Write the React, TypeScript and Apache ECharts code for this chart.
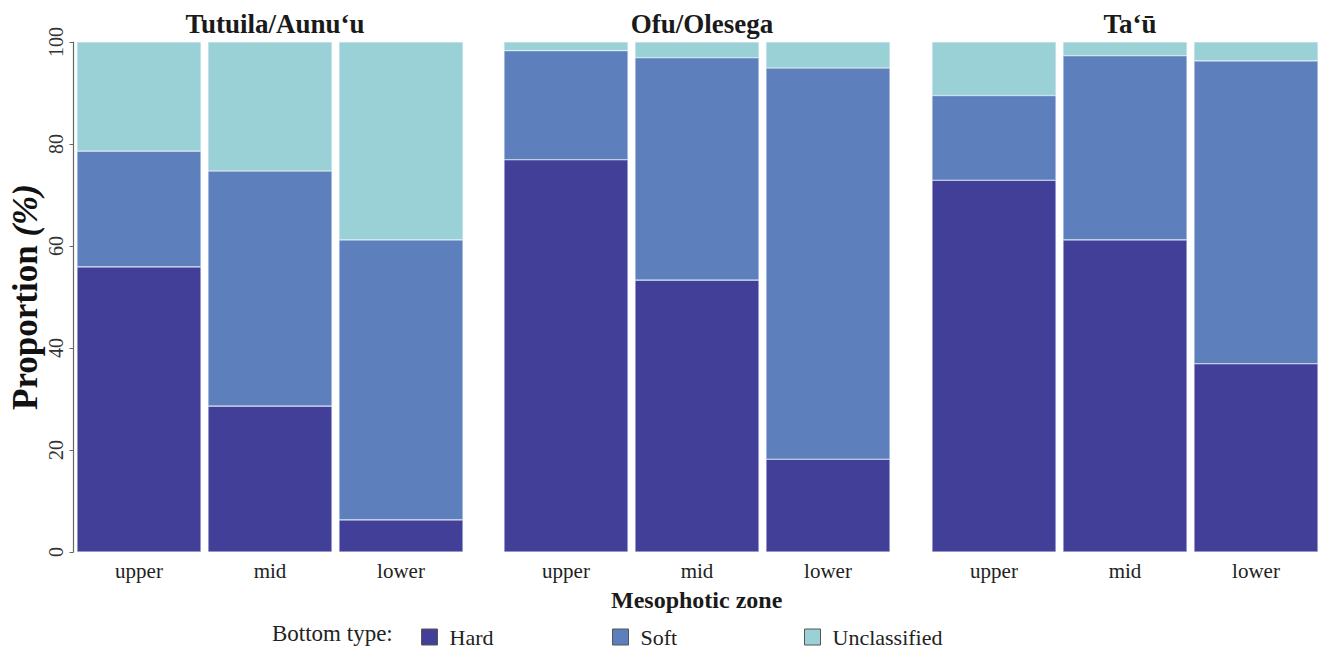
import React, { useEffect, useRef } from "react";
import * as echarts from "echarts";

const panels = ["Tutuila/Aunu‘u", "Ofu/Olesega", "Ta‘ū"];
const zones = ["upper", "mid", "lower"];
// cumulative tops (%)
const hard = [
  [55.9, 28.6, 6.3],
  [76.9, 53.3, 18.2],
  [72.9, 61.2, 36.9],
];
const hardPlusSoft = [
  [78.6, 74.7, 61.2],
  [98.3, 96.9, 94.9],
  [89.5, 97.3, 96.3],
];
const yTicks = [0, 20, 40, 60, 80, 100];
const seriesNames = ["Hard", "Soft", "Unclassified"];
const colors = ["#413f98", "#5d80bd", "#99d1d6"];

const FONT = "'Liberation Serif', 'Times New Roman', serif";

export default function App() {
  const ref = useRef<HTMLDivElement>(null);
  useEffect(() => {
    if (!ref.current) return;
    const chart = echarts.init(ref.current, undefined, { renderer: "svg" });
    const lefts = [73.5, 500.5, 928.5];
    const width = 393;
    const grids = lefts.map((l) => ({ left: l, width, top: 42, bottom: 96 }));
    const xAxes = lefts.map((_, i) => ({
      type: "category",
      gridIndex: i,
      data: zones,
      axisLine: { show: false },
      axisTick: { show: false },
      axisLabel: { fontFamily: FONT, fontSize: 21, color: "#222", margin: 8 },
    }));
    const yAxes = lefts.map((_, i) => ({
      type: "value",
      gridIndex: i,
      min: yTicks[0],
      max: yTicks[yTicks.length - 1],
      interval: 20,
      splitLine: { show: false },
      axisLine: { show: i === 0, lineStyle: { color: "#666", width: 1.2 } },
      axisTick: { show: i === 0, length: 4, lineStyle: { color: "#666" } },
      axisLabel: {
        show: i === 0,
        rotate: 90,
        fontFamily: FONT,
        fontSize: 20,
        color: "#333",
        margin: 8,
      },
      name: i === 0 ? "Proportion {i|(%)}" : "",
      nameLocation: "middle",
      nameRotate: 90,
      nameGap: 31,
      nameTextStyle: {
        fontFamily: FONT,
        fontSize: 35,
        fontWeight: "bold",
        color: "#111",
        rich: {
          i: { fontFamily: FONT, fontSize: 35, fontWeight: "bold", fontStyle: "italic", color: "#111" },
        },
      },
    }));
    const series: any[] = [];
    panels.forEach((_, p) => {
      const vals = [
        hard[p],
        hardPlusSoft[p].map((v, k) => +(v - hard[p][k]).toFixed(1)),
        hardPlusSoft[p].map((v) => +(100 - v).toFixed(1)),
      ];
      seriesNames.forEach((name, s) => {
        series.push({
          type: "bar",
          name,
          xAxisIndex: p,
          yAxisIndex: p,
          stack: "p" + p,
          data: vals[s],
          barCategoryGap: "5.3%",
          itemStyle: { color: colors[s], borderColor: "rgba(220,230,245,0.7)", borderWidth: 0.6 },
        });
      });
    });
    const centers = lefts.map((l) => l + width / 2);
    const legendLefts = [421, 612, 804];
    chart.setOption({
      animation: false,
      title: panels.map((t, i) => ({
        text: t,
        left: centers[i],
        top: 5,
        textAlign: "center",
        textStyle: { fontFamily: FONT, fontSize: 27, fontWeight: "bold", color: "#1a1a1a" },
      })),
      grid: grids,
      xAxis: xAxes,
      yAxis: yAxes,
      legend: seriesNames.map((n, i) => ({
        data: [n],
        left: legendLefts[i],
        top: 626,
        padding: 0,
        itemWidth: 16,
        itemHeight: 16,
        icon: "rect",
        itemStyle: { borderColor: "#555", borderWidth: 1 },
        textStyle: {
          fontFamily: FONT,
          fontSize: 22,
          color: "#222",
          padding: [0, 0, 0, 7],
        },
      })),
      graphic: [
        {
          type: "text",
          left: 272,
          top: 622,
          style: { text: "Bottom type:", fontFamily: FONT, fontSize: 23, fill: "#222" },
        },
        {
          type: "text",
          left: centers[1] - 86,
          top: 588,
          style: { text: "Mesophotic zone", fontFamily: FONT, fontSize: 24, fontWeight: "bold", fill: "#1a1a1a" },
        },
      ],
      series,
    });
    return () => chart.dispose();
  }, []);
  return <div ref={ref} style={{ width: 1323, height: 648, position: "absolute", left: 0, top: 0 }} />;
}
